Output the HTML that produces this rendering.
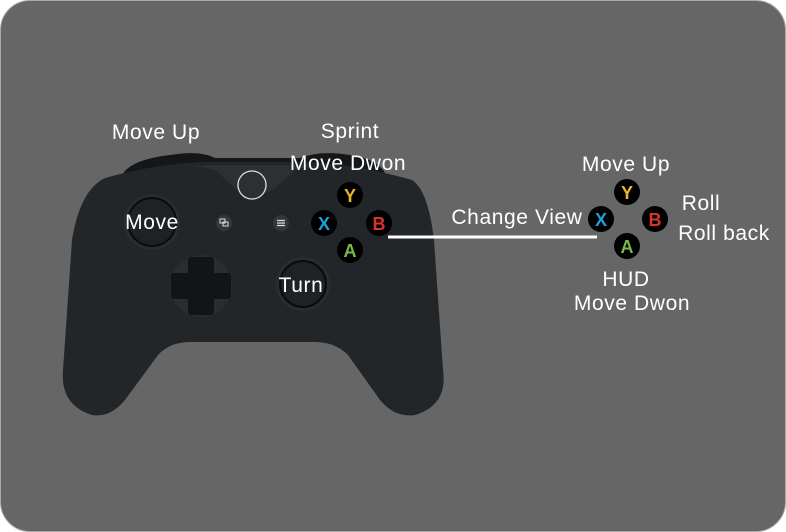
<!DOCTYPE html>
<html><head><style>
html,body{margin:0;padding:0;background:#fff;width:786px;height:532px;overflow:hidden}
.bg{position:absolute;left:0;top:0;width:784px;height:530px;border:1px solid #aaa;border-radius:30px;background:#666}
svg{position:absolute;left:0;top:0}
text{font-family:"Liberation Sans",sans-serif;fill:#fff;font-size:21px;letter-spacing:0.6px}
.b{font-weight:bold;font-size:18px;letter-spacing:0}
</style></head><body>
<div class="bg"></div>
<svg width="786" height="532" viewBox="0 0 786 532">
<path d="M120,180 Q125,160 170,155 Q200,150 215,158 L300,158 Q320,150 350,155 Q385,160 388,182 Z" fill="#141618"/>
<path d="M105,178 Q150,165 200,162 L310,162 Q360,165 412,180 Q428,190 434,240 L443,370 Q448,405 415,415 Q395,418 380,400 L348,355 Q335,342 315,342 L190,342 Q170,342 158,355 L125,400 Q110,418 92,415 Q60,405 63,370 L72,240 Q80,190 105,178 Z" fill="#232629"/>
<path d="M180,168 Q200,165 215,170 L235,188 Q245,195 255,195 Q265,195 275,188 L295,170 Q310,165 330,168 L300,165 L210,165 Z" fill="#2d3033"/>
<circle cx="252" cy="185" r="14" fill="#2d3033" stroke="#ddd" stroke-width="1.3"/>
<circle cx="152" cy="222" r="28" fill="#2a2d30"/>
<circle cx="152" cy="222" r="24" fill="#1f2225" stroke="#0a0a0a" stroke-width="2"/>
<circle cx="201" cy="286" r="31" fill="#2a2d30"/>
<rect x="188" y="257" width="26" height="58" rx="3" fill="#131415"/>
<rect x="171" y="273" width="60" height="26" rx="3" fill="#131415"/>
<circle cx="303" cy="284" r="27" fill="#2a2d30"/>
<circle cx="303" cy="284" r="23" fill="#1f2225" stroke="#0a0a0a" stroke-width="2"/>
<circle cx="224" cy="223" r="8" fill="#34373a"/>
<rect x="220" y="219" width="5" height="4" fill="none" stroke="#ddd" stroke-width="1"/>
<rect x="223" y="222" width="5" height="4" fill="none" stroke="#ddd" stroke-width="1"/>
<circle cx="281" cy="223" r="8" fill="#34373a"/>
<path d="M277,220.5h8M277,223h8M277,225.5h8" stroke="#ddd" stroke-width="1.2"/>
<g>
<circle cx="350" cy="195" r="13" fill="#000"/><text class="b" x="350" y="202" text-anchor="middle" style="fill:#e7b52c">Y</text>
<circle cx="324" cy="223" r="13" fill="#000"/><text class="b" x="324" y="230" text-anchor="middle" style="fill:#1ea0dc">X</text>
<circle cx="379" cy="223" r="13" fill="#000"/><text class="b" x="379" y="230" text-anchor="middle" style="fill:#d9342b">B</text>
<circle cx="350" cy="250" r="13" fill="#000"/><text class="b" x="350" y="257" text-anchor="middle" style="fill:#7bb946">A</text>
</g>
<line x1="388" y1="237" x2="597" y2="237" stroke="#fff" stroke-width="3"/>
<g>
<circle cx="627" cy="192" r="13" fill="#000"/><text class="b" x="627" y="199" text-anchor="middle" style="fill:#e7b52c">Y</text>
<circle cx="601" cy="219" r="13" fill="#000"/><text class="b" x="601" y="226" text-anchor="middle" style="fill:#1ea0dc">X</text>
<circle cx="655" cy="219" r="13" fill="#000"/><text class="b" x="655" y="226" text-anchor="middle" style="fill:#d9342b">B</text>
<circle cx="627" cy="246" r="13" fill="#000"/><text class="b" x="627" y="253" text-anchor="middle" style="fill:#7bb946">A</text>
</g>
<text x="156" y="139" text-anchor="middle">Move Up</text>
<text x="350" y="138" text-anchor="middle">Sprint</text>
<text x="348" y="170" text-anchor="middle">Move Dwon</text>
<text x="152" y="229" text-anchor="middle">Move</text>
<text x="301" y="292" text-anchor="middle">Turn</text>
<text x="517" y="224" text-anchor="middle">Change View</text>
<text x="626" y="171" text-anchor="middle">Move Up</text>
<text x="701" y="210" text-anchor="middle">Roll</text>
<text x="724" y="240" text-anchor="middle">Roll back</text>
<text x="626" y="286" text-anchor="middle">HUD</text>
<text x="632" y="310" text-anchor="middle">Move Dwon</text>
</svg>
</body></html>
